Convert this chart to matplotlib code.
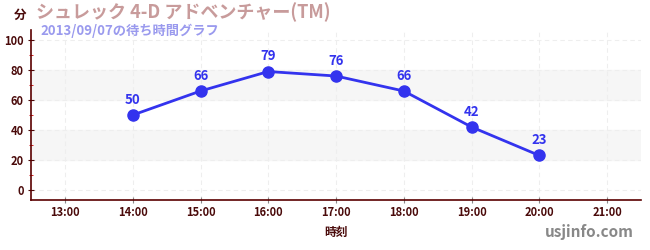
import matplotlib.pyplot as plt
import numpy as np

plt.rcParams['font.family'] = ['Noto Sans CJK JP', 'DejaVu Sans']

hours = [14, 15, 16, 17, 18, 19, 20]
waits = [50, 66, 79, 76, 66, 42, 23]
xticks = [13, 14, 15, 16, 17, 18, 19, 20, 21]
xticklabels = ["13:00", "14:00", "15:00", "16:00", "17:00", "18:00", "19:00", "20:00", "21:00"]
yticks = [0, 20, 40, 60, 80, 100]

title = "シュレック 4-D アドベンチャー(TM)"
subtitle = "2013/09/07の待ち時間グラフ"

dark = "#4a0a0a"
blue = "#3333ee"

fig = plt.figure(figsize=(6.5, 2.5), dpi=100)
ax = fig.add_axes([0.048, 0.2, 0.938, 0.68])

ax.set_xlim(12.5, 21.5)
ax.set_ylim(-6.7, 106.7)

# alternating bands
for lo in (20, 60):
	ax.axhspan(lo, lo + 20, color="#f6f6f6", zorder=0)

ax.set_xticks(xticks)
ax.set_xticklabels(xticklabels)
ax.set_yticks(yticks)
ax.set_yticks(range(10, 100, 20), minor=True)
ax.grid(True, which="major", color="#eeeeee", linestyle=(0, (4, 3)), linewidth=0.8)
ax.set_axisbelow(True)

ax.plot(hours, waits, color=blue, linewidth=2, marker="o", markersize=8, zorder=3)
for h, w in zip(hours, waits):
	ax.annotate(str(w), (h, w), xytext=(0, 6), textcoords="offset points",
		ha="center", va="bottom", color=blue, fontsize=9.5, fontweight="bold")

for s in ("top", "right"):
	ax.spines[s].set_visible(False)
for s in ("left", "bottom"):
	ax.spines[s].set_color("#5a0000")
	ax.spines[s].set_linewidth(1.2)

ax.tick_params(which="major", length=4, color=dark, labelsize=8, labelcolor=dark, direction="inout")
ax.tick_params(axis="x", which="major", color="#888888", pad=2)
ax.tick_params(axis="y", which="minor", length=3, color="#cc0000", direction="inout")
for lab in ax.get_xticklabels() + ax.get_yticklabels():
	lab.set_fontweight("bold")

ax.set_xlabel("時刻", color=dark, fontsize=8.5, fontweight="bold", labelpad=5)

fig.text(0.022, 0.94, "分", color=dark, fontsize=9, fontweight="bold", va="center")
fig.text(0.055, 0.95, title, color="#c89b9b", fontsize=13, fontweight="bold", va="center")
fig.text(0.062, 0.875, subtitle, color="#9a9aee", fontsize=9.5, fontweight="bold", va="center")
fig.text(0.975, 0.07, "usjinfo.com", color="#888888", fontsize=11, fontweight="bold", ha="right", va="center")

fig.savefig("out.png", dpi=100)
